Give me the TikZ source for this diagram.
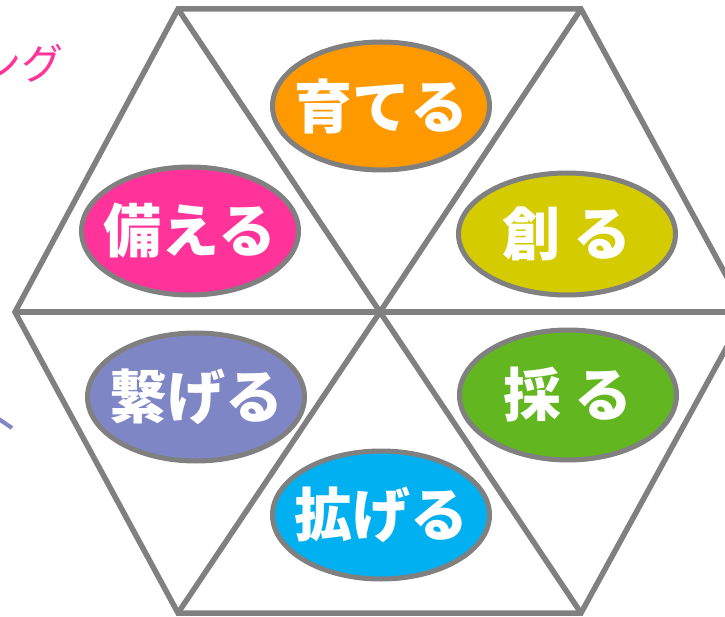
\documentclass[tikz,border=0pt]{standalone}
\usepackage{fontspec}
\newfontfamily\jp{Noto Sans CJK JP}
\usetikzlibrary{shapes.geometric}
\definecolor{hexgray}{RGB}{128,128,128}
\definecolor{cOrange}{RGB}{255,153,0}
\definecolor{cPink}{RGB}{255,51,153}
\definecolor{cOlive}{RGB}{212,204,0}
\definecolor{cPurple}{RGB}{127,134,198}
\definecolor{cGreen}{RGB}{98,183,32}
\definecolor{cBlue}{RGB}{0,176,240}
\begin{document}
\begin{tikzpicture}[x=1pt,y=-1pt,
  hexline/.style={draw=hexgray,line width=5.5pt,line join=miter},
  bubble/.style={ellipse,draw=hexgray,line width=5pt,inner sep=0pt,
    minimum width=217pt,minimum height=128pt},
  word/.style={text=white,inner sep=0pt,font=\jp\bfseries\fontsize{58}{60}\selectfont}]
\useasboundingbox (0,0) rectangle (725,617);
\clip (0,0) rectangle (725,617);
\coordinate (C) at (380,312);
\coordinate (TL) at (178,9);
\coordinate (TR) at (581,9);
\coordinate (R) at (746,312);
\coordinate (BR) at (581,613);
\coordinate (BL) at (178,613);
\coordinate (L) at (15,312);
\draw[hexline] (TL)--(TR)--(R)--(BR)--(BL)--(L)--cycle;
\foreach \v in {TL,TR,R,BR,BL,L} \draw[hexline] (C)--(\v);
\node[bubble,fill=cOrange,label={[word]center:育てる}] (sodateru) at (381,106) {};
\node[bubble,fill=cPink,label={[word]center:備える}] (sonaeru) at (190,231) {};
\node[bubble,fill=cOlive,minimum height=122pt,label={[word]center:創 る}] (tsukuru) at (567,234) {};
\node[bubble,fill=cPurple,label={[word]center:繋げる}] (tsunageru) at (196,397) {};
\node[bubble,fill=cGreen,minimum height=130pt,label={[word]center:採 る}] (toru) at (568,395) {};
\node[bubble,fill=cBlue,label={[word]center:拡げる}] (hirogeru) at (381,515) {};
\node[anchor=east,inner sep=0pt,text=cPink,font=\jp\fontsize{42}{44}\selectfont] (ngu) at (64,63) {ング};
\coordinate (p1) at (-10,413);
\coordinate (p2) at (12,428);
\draw[cPurple,line width=4pt] (p1)--(p2);
\end{tikzpicture}
\end{document}
